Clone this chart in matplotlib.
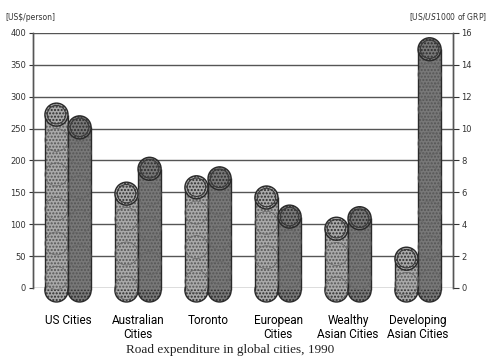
import numpy as np
import matplotlib
matplotlib.use("Agg")
import matplotlib.pyplot as plt
from matplotlib.patches import Ellipse

# data
cities = ['US Cities', 'Australian\nCities', 'Toronto', 'European\nCities',
          'Wealthy\nAsian Cities', 'Developing\nAsian Cities']
per_person = [290, 166, 176, 160, 111, 64]          # US$/person (left axis)
per_grp = [10.8, 8.2, 7.6, 5.2, 5.1, 15.7]          # US$/US$1000 of GRP (right axis)
left_ticks = [0, 50, 100, 150, 200, 250, 300, 350, 400]
right_ticks = [0, 2, 4, 6, 8, 10, 12, 14, 16]

fig = plt.figure(figsize=(4.95, 3.59), dpi=100)
ax = fig.add_axes([0.0667, 0.1978, 0.8485, 0.7103])
ax2 = ax.twinx()

x = np.arange(len(cities))
w = 0.33
px_per_unit_l = 255 / 400.0
px_per_unit_r = 255 / 16.0
r_px = 11.5      # cap radius in pixels
below_px = 14    # how far the capsule runs under the zero line


def capsule(axis, xc, top, px_unit, face, edge):
    r = r_px / px_unit
    base = -below_px / px_unit
    y0, y1 = base + r, top - r
    axis.bar(xc, y1 - y0, bottom=y0, width=w, color=face, linewidth=0,
             hatch='.....', edgecolor='#555555', clip_on=False, zorder=3)
    axis.vlines([xc - w / 2, xc + w / 2], y0, y1, color='#2a2a2a', lw=1.0,
                zorder=4, clip_on=False)
    bot = Ellipse((xc, y0), w, 2 * r, facecolor=face, edgecolor='#2a2a2a',
                  lw=1.0, zorder=2.5, clip_on=False, hatch='.....')
    axis.add_patch(bot)
    cap = Ellipse((xc, y1), w, 2 * r, facecolor=face, edgecolor='#2a2a2a',
                  lw=1.0, zorder=5, clip_on=False, hatch='.....')
    axis.add_patch(cap)
    coin = Ellipse((xc, y1), w * 0.8, 2 * r * 0.8, facecolor='none',
                   edgecolor='#3a3a3a', lw=0.8, zorder=6, clip_on=False)
    axis.add_patch(coin)
    # a few stacking rings on the body
    for yy in np.arange(y1 - 2.2 * r, y0, -3.0 * r):
        axis.add_patch(Ellipse((xc, yy), w, 2 * r, facecolor='none',
                               edgecolor='#666666', lw=0.5, zorder=4, clip_on=False))


for i in x:
    capsule(ax, i - w / 2, per_person[i], px_per_unit_l, '#a9a9a9', '#2a2a2a')
    capsule(ax2, i + w / 2, per_grp[i], px_per_unit_r, '#787878', '#2a2a2a')

ax.set_xlim(-0.5, len(cities) - 0.5)
ax.set_ylim(0, 400)
ax2.set_ylim(0, 16)

ax.set_yticks(left_ticks)
ax2.set_yticks(right_ticks)
ax.yaxis.grid(True, color='#555555', lw=1.0)
ax.set_axisbelow(True)

ax.set_xticks(x, cities)
ax.tick_params(axis='x', length=0, pad=19, labelsize=8.5)
for lab in ax.get_xticklabels():
    lab.set_fontfamily('Roboto')
    lab.set_linespacing(1.05)
ax.tick_params(axis='y', length=3, width=0.8, labelsize=6, pad=2, colors='#333333')
ax2.tick_params(axis='y', length=4, width=0.8, labelsize=6, pad=2, colors='#333333')

for a in (ax, ax2):
    a.spines['top'].set_visible(False)
    a.spines['bottom'].set_visible(False)
    for s in ('left', 'right'):
        a.spines[s].set_color('#555555')
        a.spines[s].set_linewidth(1.0)

fig.text(0.01, 0.952, '[US$/person]', fontsize=5.5, color='#333333', va='center')
fig.text(0.985, 0.952, '[US$/US$1000 of GRP]', fontsize=5.5, color='#333333',
         va='center', ha='right')
fig.text(0.465, 0.025, 'Road expenditure in global cities, 1990',
         fontsize=9.5, family='Liberation Serif', ha='center', va='center',
         color='#222222')

fig.savefig('out.png', dpi=100)
